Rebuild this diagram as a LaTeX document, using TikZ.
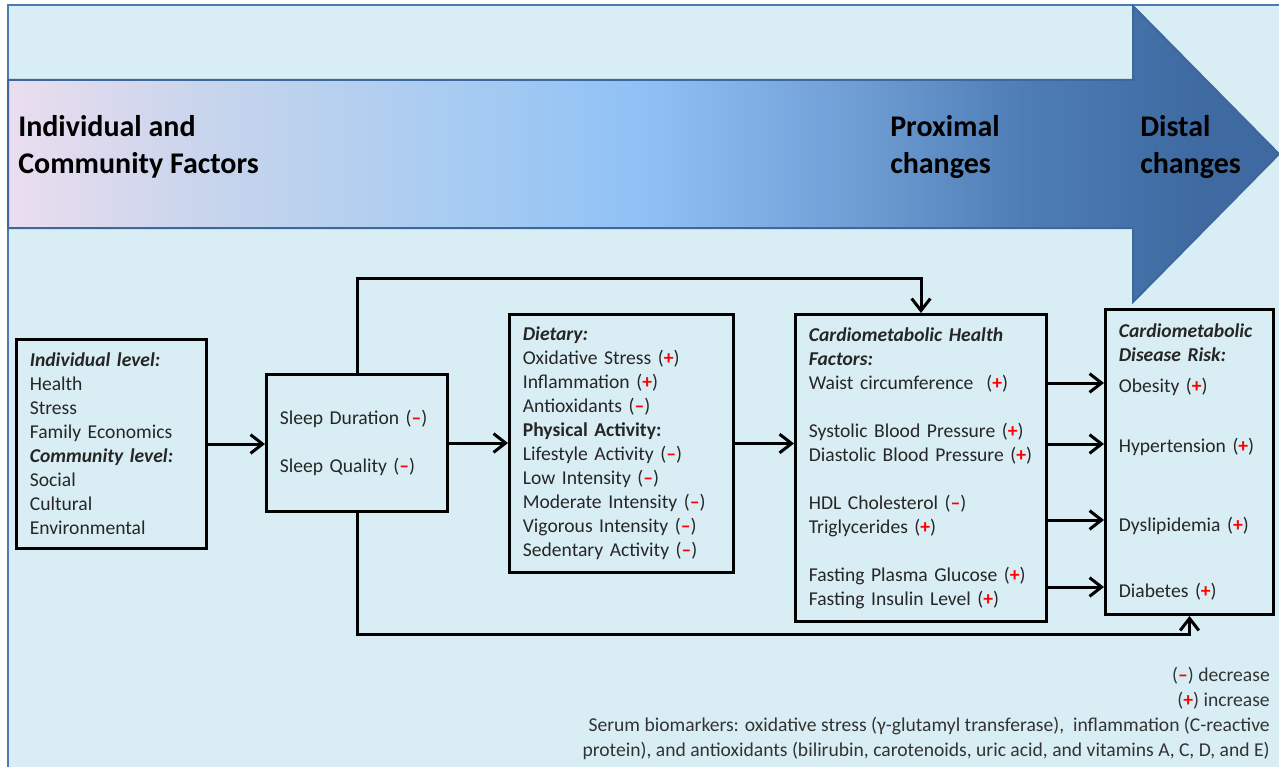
\documentclass[tikz,border=0pt]{standalone}
\usepackage{fontspec}
\setmainfont{Carlito}
\usepackage{tikz}
\usepackage{xcolor}
\usetikzlibrary{arrows.meta}

\definecolor{bgcyan}{HTML}{D9EEF4}
\definecolor{framebl}{HTML}{4A7CB4}
\definecolor{arrowedge}{HTML}{3E679C}
\definecolor{inkgray}{HTML}{262626}
\definecolor{notegray}{HTML}{333333}
\definecolor{flowA}{HTML}{EBDDEF}
\definecolor{flowB}{HTML}{C9D5EC}
\definecolor{flowC}{HTML}{A3CAF2}
\definecolor{flowD}{HTML}{8FC1F6}
\definecolor{flowE}{HTML}{6C9BD2}
\definecolor{flowF}{HTML}{4E7DB5}
\definecolor{flowG}{HTML}{3E69A1}

\pgfdeclarehorizontalshading{flowshade}{100bp}{color(0bp)=(flowA); color(25bp)=(flowA);
  color(32.5bp)=(flowB); color(44bp)=(flowC); color(50bp)=(flowD); color(59bp)=(flowE);
  color(65bp)=(flowF); color(72bp)=(flowG); color(75bp)=(flowG); color(100bp)=(flowG)}

\newcommand{\incr}{(\textcolor{red}{\textbf{+}})}
\newcommand{\decr}{(\textcolor{red}{\textbf{–}})}
\newcommand{\bodyfont}{\fontsize{14.7}{18}\selectfont}
\newcommand{\headfont}{\fontsize{22.5}{27.75}\selectfont\bfseries}
\newcommand{\notefont}{\fontsize{14.7}{18.75}\selectfont}

\tikzset{
  factorbox/.style={draw, line width=2.25pt, anchor=north west, align=left,
    inner xsep=10pt, inner ysep=0pt, font=\bodyfont, text=inkgray},
  conn/.style={line width=2.25pt, ->},
  flowlabel/.style={anchor=west, align=left, inner sep=0pt, font=\headfont},
}

\begin{document}
\begin{tikzpicture}[x=0.75pt, y=-0.75pt, >={Straight Barb[length=9pt,width=14pt]}]
  \useasboundingbox (0,0) rectangle (1279,767);

  % background and big arrow
  \fill[bgcyan] (8,5) rectangle (1279,767);
  \draw[framebl, line width=1.5pt] (8,767) -- (8,5) -- (1279,5);
  \shadedraw[shading=flowshade, draw=arrowedge, line width=1.5pt]
    (8,80) -- (1133,80) -- (1133,6) -- (1279,154) -- (1133,302) -- (1133,228) -- (8,228) -- cycle;

  \node[flowlabel] (indivlbl) at (18,147) {Individual and\\Community Factors};
  \node[flowlabel] (proxlbl) at (890,147) {Proximal\\changes};
  \node[flowlabel] (distlbl) at (1140,147) {Distal\\changes};

  % boxes
  \node[factorbox, text width=122.5pt, minimum height=156.75pt] (indiv) at (15,338)
    {\textbf{\textit{Individual level:}}\\ Health\\ Stress\\ Family Economics\\
     \textbf{\textit{Community level:}}\\ Social\\ Cultural\\ Environmental};

  \node[factorbox, text width=115.75pt, minimum height=102.75pt] (sleep) at (265,373)
    {Sleep Duration \decr\\[18pt] Sleep Quality \decr};

  \node[factorbox, text width=148pt, minimum height=193.5pt] (diet) at (508,313)
    {\textbf{\textit{Dietary:}}\\ Oxidative Stress \incr\\ Inflammation \incr\\
     Antioxidants \decr\\ \textbf{Physical Activity:}\\ Lifestyle Activity \decr\\
     Low Intensity \decr\\ Moderate Intensity \decr\\ Vigorous Intensity \decr\\
     Sedentary Activity \decr};

  \node[factorbox, text width=168.25pt, minimum height=230.25pt] (chf) at (794,313)
    {\textbf{\textit{Cardiometabolic Health}}\\ \textbf{\textit{Factors:}}\\
     Waist circumference \ \incr\\[18pt]
     Systolic Blood Pressure \incr\\ Diastolic Blood Pressure \incr\\[18pt]
     HDL Cholesterol \decr\\ Triglycerides \incr\\[18pt]
     Fasting Plasma Glucose \incr\\ Fasting Insulin Level \incr};

  \node[factorbox, text width=106pt, minimum height=228.75pt] (dis) at (1104,308)
    {\textbf{\textit{Cardiometabolic}}\\ \textbf{\textit{Disease Risk:}}\\[5pt]
     Obesity \incr\\[27pt] Hypertension \incr\\[41pt] Dyslipidemia \incr\\[31.5pt]
     Diabetes \incr};

  % connectors
  \draw[conn] (indiv.east) -- (indiv.east -| sleep.west);
  \draw[conn] (sleep.east) -- (sleep.east -| diet.west);
  \draw[conn] (diet.east) -- (diet.east -| chf.west);
  \foreach \y in {383,444,520,587}
    \draw[conn] (chf.east |- 0,\y) -- (dis.west |- 0,\y);
  \draw[conn] (sleep.north) -- (sleep.north |- 0,278) -| (chf.north);
  \draw[conn] (sleep.south) -- (sleep.south |- 0,634) -| (dis.south);

  % key
  \node[anchor=east, align=right, inner sep=0pt, font=\notefont, text=notegray] (keynote) at (1270,713)
    {\decr{} decrease\\ \incr{} increase\\
     Serum biomarkers: oxidative stress (γ-glutamyl transferase), \ inflammation (C-reactive\\
     protein), and antioxidants (bilirubin, carotenoids, uric acid, and vitamins A, C, D, and E)};
\end{tikzpicture}
\end{document}
